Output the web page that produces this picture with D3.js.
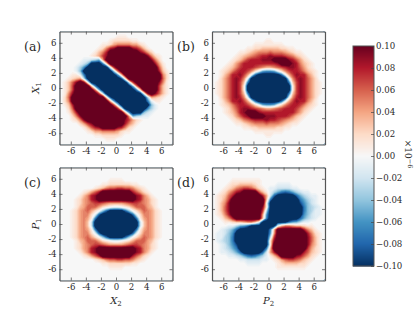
<!DOCTYPE html>
<html><head><meta charset="utf-8">
<script src="https://cdn.jsdelivr.net/npm/d3@7"></script>
<style>html,body{margin:0;padding:0;background:#fff}svg{display:block}text{font-family:"DejaVu Serif",serif;fill:#2a2a2a}</style>
</head><body><svg id="c" width="415" height="312"></svg>
<script>
// Cell levels, one row per 0.5 unit, top to bottom.
// 0 = 0.00; 1..9 = +0.01..+0.09; a..i = -0.01..-0.09; X / x = beyond the colour limit (saturated)
const panelA=[
"000000000000000000000000000000",
"000000000000000111000000000000",
"000000000000012222211000000000",
"000000000001124555544210000000",
"000000000012589XXXX98631000000",
"0000000001358XXXXXXXX974200000",
"0000000012479XXXXXXXXXX9521000",
"000000aabce4XXXXXXXXXXXX952000",
"00000abdxxxg2XXXXXXXXXXXX84100",
"0000acfxxxxxxa8XXXXXXXXXXX6200",
"0000adxxxxxxxxc6XXXXXXXXXX8310",
"00011agxxxxxxxxf3XXXXXXXXXX520",
"001234cxxxxxxxxxi1XXXXXXXXX620",
"01369X9axxxxxxxxxxb7XXXXXX9510",
"0137XXXX2gxxxxxxxxxe5XXXXX7310",
"0137XXXXX5exxxxxxxxxg2XXXX7310",
"0159XXXXXX7bxxxxxxxxxxa9X96310",
"026XXXXXXXXX1ixxxxxxxxxc432100",
"025XXXXXXXXXX3fxxxxxxxxga11000",
"0138XXXXXXXXXX6cxxxxxxxxda0000",
"0026XXXXXXXXXXX8axxxxxxfca0000",
"00148XXXXXXXXXXXX2gxxxdba00000",
"000259XXXXXXXXXXXX4ecbaa000000",
"0001259XXXXXXXXXX9742100000000",
"000002479XXXXXXXX8531000000000",
"00000013689XXXX985210000000000",
"000000012445555421100000000000",
"000000000112222210000000000000",
"000000000000111000000000000000",
"000000000000000000000000000000"];
const panelB=[
"000000000000000000000000000000",
"000000000000000000000000000000",
"000000000000001100000000000000",
"000000000001111111100000000000",
"000000000112233333221100000000",
"000000011234555655543211000000",
"000000123456788988876532100000",
"0000012357888999XXXX9864210000",
"000012468888888889XXX985321000",
"000123578887654456789986421000",
"001235788752aeffea257887532100",
"0013588974ahxxxxxxha4798853100",
"002468985axxxxxxxxxxa589864200",
"012468973gxxxxxxxxxxg379864210",
"012468971xxxxxxxxxxxx179864210",
"012468971xxxxxxxxxxxx179864210",
"012468973gxxxxxxxxxxg379864210",
"002468985axxxxxxxxxxa589864200",
"0013588974ahxxxxxxha4798853100",
"001235788752aeffea257887532100",
"000124689987654456788875321000",
"000123589XXX988888888864210000",
"0000124689XXXX9998887532100000",
"000001235678889887654321000000",
"000000112345556555432110000000",
"000000001122333332211000000000",
"000000000001111111100000000000",
"000000000000001100000000000000",
"000000000000000000000000000000",
"000000000000000000000000000000"];
const panelC=[
"000000000000000000000000000000",
"000000000000000000000000000000",
"000000000000000000000000000000",
"000000000000011110000000000000",
"000000000001122222211000000000",
"000000000123566776653210000000",
"00000012468XXXXXXXX86421000000",
"0000013589XXXXXXXXXX9853100000",
"0000124589XXXXXXXXXX9854210000",
"000012456776544445677654210000",
"00001346664210aa01246664310000",
"00012456420dhxxxxhd02465421000",
"000124552ahxxxxxxxxha255421000",
"000124541gxxxxxxxxxxg145421000",
"00012453bxxxxxxxxxxxxb35421000",
"00012453bxxxxxxxxxxxxb35421000",
"000124541gxxxxxxxxxxg145421000",
"000124552ahxxxxxxxxha255421000",
"00012456420dhxxxxhd02465421000",
"00001346664210aa01246664310000",
"000012456776544445677654210000",
"0000124589XXXXXXXXXX9854210000",
"0000013589XXXXXXXXXX9853100000",
"00000012468XXXXXXXX86421000000",
"000000000123566776653210000000",
"000000000001122222211000000000",
"000000000000011110000000000000",
"000000000000000000000000000000",
"000000000000000000000000000000",
"000000000000000000000000000000"];
const panelD=[
"000000000000000000000000000000",
"000000000000000000000000000000",
"000000000000000000000000000000",
"000001111111100000000000000000",
"00001223333210000aaaa000000000",
"000123567764210aabbbbaa0000000",
"00124689XXXX631aceghgecbaa0000",
"012368XXXXXXX84bhxxxxxhecbaa00",
"01247XXXXXXXXX3gxxxxxxxgecba00",
"01359XXXXXXXXX0xxxxxxxxifdba00",
"01369XXXXXXXX91xxxxxxxxxgdcba0",
"01369XXXXXXXX7cxxxxxxxxxgdcaa0",
"01258XXXXXXXX4fxxxxxxxxxfdbaa0",
"001358XXXXXXX3gxxxxxxxxhecba00",
"000112334553axxxxxxxhfecaa0000",
"0000aacefhxxxxxxxa355433211000",
"00abcehxxxxxxxxg3XXXXXXX853100",
"0aabdfxxxxxxxxxf4XXXXXXXX85210",
"0aacdgxxxxxxxxxc7XXXXXXXX96310",
"0abcdgxxxxxxxxx19XXXXXXXX96310",
"00abdfixxxxxxxx0XXXXXXXXX95310",
"00abcegxxxxxxxg3XXXXXXXXX74210",
"00aabcehxxxxxhb48XXXXXXX863210",
"0000aabceghgeca136XXXX98642100",
"0000000aabbbbaa012467765321000",
"000000000aaaa00001233332210000",
"000000000000000001111111100000",
"000000000000000000000000000000",
"000000000000000000000000000000",
"000000000000000000000000000000"];
const panelLabels=["(a)","(b)","(c)","(d)"];
const axisTicks=[-6,-4,-2,0,2,4,6];
const colorTicks=[0.10,0.08,0.06,0.04,0.02,0,-0.02,-0.04,-0.06,-0.08,-0.10];

const N=30, lim=7.5, vmax=0.10, over=0.12;
const tickFont='"DejaVu Serif",serif', tickSize="8.6px";
const decode=c=>c==="X"?over:c==="x"?-over:/[0-9]/.test(c)?+c/100:-(c.charCodeAt(0)-96)/100;
const ramp=d3.schemeRdBu[11].slice().reverse();
const color=d3.scaleLinear().domain(d3.range(11).map(i=>-vmax+i*vmax/5)).range(ramp).clamp(true);
const svg=d3.select("#c");
const spine="#555";

const layouts=[
 {rows:panelA,x:59.5,y:31.5,lab:[24,51],yl:"X",ys:"1"},
 {rows:panelB,x:212,y:31.5,lab:[177,51]},
 {rows:panelC,x:59.5,y:167.5,lab:[24,187],yl:"P",ys:"1",xl:"X",xs:"2"},
 {rows:panelD,x:212,y:167.5,lab:[177,187],xl:"P",xs:"2"}];
const size=113;
const thresholds=d3.range(-39,40,2).map(i=>i*0.0025);

layouts.forEach((p,k)=>{
  const g=svg.append("g").attr("transform",`translate(${p.x},${p.y})`);
  const sx=d3.scaleLinear().domain([-lim,lim]).range([0,size]);
  const sy=d3.scaleLinear().domain([-lim,lim]).range([size,0]);
  const values=p.rows.flatMap(r=>Array.from(r,decode));
  const cellX=i=>-lim+i*(2*lim/N), cellY=j=>lim-j*(2*lim/N);
  const path=d3.geoPath(d3.geoTransform({point(a,b){this.stream.point(sx(cellX(a)),sy(cellY(b)));}}));
  const cid="clip"+k;
  g.append("clipPath").attr("id",cid).append("rect").attr("width",size).attr("height",size);
  const plot=g.append("g").attr("clip-path",`url(#${cid})`);
  plot.append("rect").attr("width",size).attr("height",size).attr("fill",color(-vmax));
  const contours=d3.contours().size([N,N]).thresholds(thresholds)(values);
  plot.selectAll("path").data(contours).join("path")
     .attr("d",path).attr("fill",d=>color(d.value+0.0025));
  const fmt=d=>String(d);
  const ax=[
   d3.axisBottom(sx).tickValues(axisTicks).tickSize(-3).tickPadding(3.5).tickFormat(fmt).tickSizeOuter(0),
   d3.axisLeft(sy).tickValues(axisTicks).tickSize(-3).tickPadding(3).tickFormat(fmt).tickSizeOuter(0),
   d3.axisTop(sx).tickValues(axisTicks).tickSize(-3).tickFormat("").tickSizeOuter(0),
   d3.axisRight(sy).tickValues(axisTicks).tickSize(-3).tickFormat("").tickSizeOuter(0)];
  const tr=[`translate(0,${size})`,"translate(0,0)","translate(0,0)",`translate(${size},0)`];
  ax.forEach((a,i)=>{
    const e=g.append("g").attr("transform",tr[i]).call(a);
    e.selectAll("path.domain").attr("stroke",spine).attr("stroke-width",1.2);
    e.selectAll(".tick line").attr("stroke","#444").attr("stroke-width",0.7);
    e.selectAll(".tick text").style("font-family",tickFont).style("font-size",tickSize).attr("fill","#2a2a2a");
  });
  svg.append("text").attr("x",p.lab[0]).attr("y",p.lab[1]).style("font-size","12.5px").text(panelLabels[k]);
  const math=(sel,base,sub)=>{
    sel.append("tspan").attr("font-style","italic").style("font-size","10px").text(base);
    sel.append("tspan").attr("dy",2).style("font-size","7px").text(sub);
  };
  if(p.yl){
    const t=svg.append("text").attr("text-anchor","middle")
      .attr("transform",`translate(39,${p.y+size/2}) rotate(-90)`);
    math(t,p.yl,p.ys);
  }
  if(p.xl){
    const t=svg.append("text").attr("text-anchor","middle").attr("x",p.x+size/2).attr("y",p.y+size+23);
    math(t,p.xl,p.xs);
  }
});

// colour bar
const cbX=353, cbW=21, cbY=46, cbH=220;
const cs=d3.scaleLinear().domain([-vmax,vmax]).range([cbY+cbH,cbY]);
const bar=svg.append("g");
const steps=d3.range(0,220);
bar.selectAll("rect").data(steps).join("rect")
  .attr("x",cbX).attr("width",cbW)
  .attr("y",i=>cbY+i).attr("height",1.5)
  .attr("fill",i=>color(cs.invert(cbY+i+0.5)));
bar.append("rect").attr("x",cbX).attr("y",cbY).attr("width",cbW).attr("height",cbH)
  .attr("fill","none").attr("stroke",spine).attr("stroke-width",1);
const cax=d3.axisRight(cs).tickValues(colorTicks).tickSize(-3).tickPadding(2).tickFormat(d3.format(".2f")).tickSizeOuter(0);
const ce=svg.append("g").attr("transform",`translate(${cbX+cbW},0)`).call(cax);
ce.select("path.domain").remove();
ce.selectAll(".tick line").attr("stroke","#444").attr("stroke-width",0.7);
ce.selectAll(".tick text").style("font-family",tickFont).style("font-size",tickSize).attr("fill","#2a2a2a");
const mul=svg.append("text").attr("text-anchor","middle").attr("transform","translate(405,154) rotate(90)").style("font-size","9px");
mul.append("tspan").text("×10");
mul.append("tspan").attr("dy",-3).style("font-size","6.5px").text("−6");
</script></body></html>
